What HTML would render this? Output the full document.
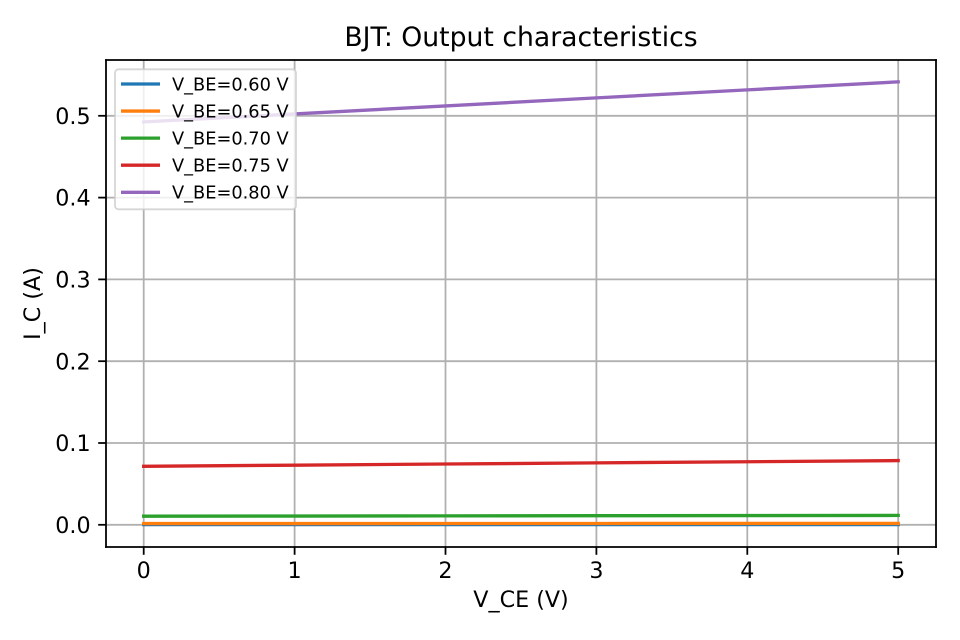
<!DOCTYPE html>
<html lang="en">
<head>
<meta charset="utf-8">
<title>BJT: Output characteristics</title>
<style>
html,body{margin:0;padding:0;background:#fff;width:960px;height:640px;overflow:hidden}
svg{display:block}
text{font-family:"DejaVu Sans","Liberation Sans",sans-serif;fill:#000}
</style>
</head>
<body>
<svg id="chart" xmlns="http://www.w3.org/2000/svg" width="960" height="640" viewBox="0 0 960 640"></svg>
<script>
const vCE = [0, 1, 2, 3, 4, 5];
const seriesLabels = ['V_BE=0.60 V', 'V_BE=0.65 V', 'V_BE=0.70 V', 'V_BE=0.75 V', 'V_BE=0.80 V'];
const seriesColors = ['#1f77b4', '#ff7f0e', '#2ca02c', '#d62728', '#9467bd'];
const ic060 = [0.0002, 0.0002, 0.0002, 0.0002, 0.0002, 0.0002];
const ic065 = [0.0015, 0.0015, 0.0016, 0.0016, 0.0017, 0.0017];
const ic070 = [0.0105, 0.0107, 0.0109, 0.0111, 0.0113, 0.0115];
const ic075 = [0.0715, 0.0729, 0.0743, 0.0757, 0.0771, 0.0785];
const ic080 = [0.4925, 0.5023, 0.5121, 0.5219, 0.5317, 0.5415];
const xTicks = [0, 1, 2, 3, 4, 5];
const yTicks = [0.0, 0.1, 0.2, 0.3, 0.4, 0.5];

const NS = 'http://www.w3.org/2000/svg';
const svg = document.getElementById('chart');
const plot = { left: 106, right: 936, top: 60, bottom: 547 };
const xPos = v => 143.7 + v * 150.9;
const yPos = v => 524.8 - v * 818;

function add(parent, tag, attrs, txt) {
  const el = document.createElementNS(NS, tag);
  for (const k in attrs) el.setAttribute(k, attrs[k]);
  if (txt !== undefined) el.textContent = txt;
  parent.appendChild(el);
  return el;
}

const bg = add(svg, 'rect', { x: plot.left, y: plot.top, width: plot.right - plot.left, height: plot.bottom - plot.top, fill: '#fff' });



xTicks.forEach(t => {
  const x = xPos(t);
  const g = add(svg, 'line', { x1: x, x2: x, y1: plot.top, y2: plot.bottom, stroke: '#b0b0b0', 'stroke-width': 1.78 });
  
  
  const m = add(svg, 'line', { x1: x, x2: x, y1: plot.bottom, y2: plot.bottom + 7.8, stroke: '#000', 'stroke-width': 1.78 });
  
  
  const l = add(svg, 'text', { x: x, y: 578, 'text-anchor': 'middle', 'font-size': 22.22 }, String(t));
  
  
});

yTicks.forEach(t => {
  const y = yPos(t);
  const g = add(svg, 'line', { x1: plot.left, x2: plot.right, y1: y, y2: y, stroke: '#b0b0b0', 'stroke-width': 1.78 });
  
  
  const m = add(svg, 'line', { x1: plot.left - 7.8, x2: plot.left, y1: y, y2: y, stroke: '#000', 'stroke-width': 1.78 });
  
  
  const l = add(svg, 'text', { x: 90.6, y: y + 8.1, 'text-anchor': 'end', 'font-size': 22.22 }, t.toFixed(1));
  
  
});

const seriesValues = [ic060, ic065, ic070, ic075, ic080];
seriesValues.forEach((vals, i) => {
  const pts = vals.map((v, j) => xPos(vCE[j]).toFixed(2) + ',' + yPos(v).toFixed(2)).join(' ');
  const p = add(svg, 'polyline', { points: pts, fill: 'none', stroke: seriesColors[i], 'stroke-width': 3.33, 'stroke-linecap': 'square', 'stroke-linejoin': 'round' });
  
  
});

[
  ['spine-left', plot.left, plot.top, plot.left, plot.bottom],
  ['spine-right', plot.right, plot.top, plot.right, plot.bottom],
  ['spine-top', plot.left, plot.top, plot.right, plot.top],
  ['spine-bottom', plot.left, plot.bottom, plot.right, plot.bottom]
].forEach(s => {
  const l = add(svg, 'line', { x1: s[1], y1: s[2], x2: s[3], y2: s[4], stroke: '#000', 'stroke-width': 1.78, 'stroke-linecap': 'square' });
  
  
});

const legend = add(svg, 'g', {});


const box = add(legend, 'rect', { x: 115, y: 69.3, width: 181, height: 140, rx: 3.5, ry: 3.5, fill: '#fff', 'fill-opacity': 0.8, stroke: '#ccc', 'stroke-opacity': 0.8, 'stroke-width': 1.78 });


seriesLabels.forEach((label, i) => {
  const y = 84 + i * 27.07;
  const h = add(legend, 'line', { x1: 121, x2: 160, y1: y, y2: y, stroke: seriesColors[i], 'stroke-width': 3.33 });
  
  
  const t = add(legend, 'text', { x: 172, y: y + 6.4, 'font-size': 17.78 }, label);
  
  
});

const title = add(svg, 'text', { x: 521, y: 46, 'text-anchor': 'middle', 'font-size': 26.67 }, 'BJT: Output characteristics');


const xl = add(svg, 'text', { x: 521, y: 607, 'text-anchor': 'middle', 'font-size': 22.22 }, 'V_CE (V)');


const yl = add(svg, 'text', { transform: 'translate(40,303.5) rotate(-90)', 'text-anchor': 'middle', 'font-size': 22.22 }, 'I_C (A)');


</script>
</body>
</html>
